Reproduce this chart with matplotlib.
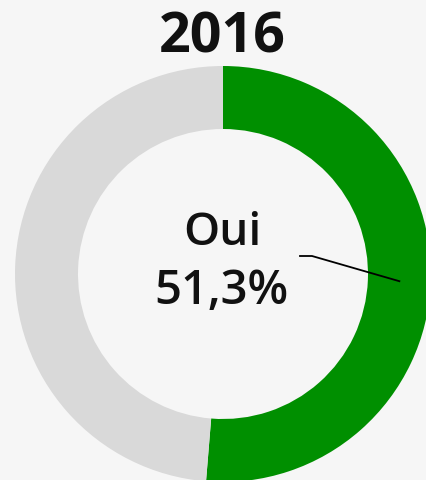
import numpy as np
import matplotlib
matplotlib.use("Agg")
import matplotlib.pyplot as plt

labels = ["Oui", "Non"]
values = [51.3, 48.7]
colors = ["#008f00", "#d9d9d9"]
title = "2016"

W, H = 427, 481
fig = plt.figure(figsize=(W / 100, H / 100), dpi=100)
fig.patch.set_facecolor("#f6f6f6")
ax = fig.add_axes([0, 0, 1, 1])

cx, cy = 223, H - 275
r_out, r_in = 208, 145
wedges, _ = ax.pie(values, colors=colors, startangle=90, counterclock=False,
                   radius=r_out, center=(cx, cy), frame=True,
                   wedgeprops=dict(width=r_out - r_in, linewidth=0))
ax.set_xlim(0, W)
ax.set_ylim(0, H)
ax.set_aspect("equal")
ax.axis("off")

font = ["Open Sans", "DejaVu Sans"]
fig.text(222 / W, 1 - 38 / H, title, ha="center", va="center", fontsize=40,
         fontweight="bold", family=font, color="#111111")
ax.text(cx - 1, H - 234, labels[0], ha="center", va="center", fontsize=33,
        fontweight="semibold", family=font, color="#111111")
ax.text(cx - 2, H - 291, f"{values[0]:.1f}%".replace(".", ","), ha="center",
        va="center", fontsize=34, fontweight="semibold", family=font, color="#111111")

# leader line to middle of the "Oui" wedge
w = wedges[0]
mid = np.deg2rad((w.theta1 + w.theta2) / 2)
rm = (r_out + r_in) / 2
ex, ey = cx + rm * np.cos(mid), cy + rm * np.sin(mid)
sx, sy = cx + 77, cy + 18
ax.plot([sx, sx + 12, ex], [sy, sy, ey], color="black", lw=1.3)

fig.savefig("out.png", dpi=100, facecolor=fig.get_facecolor())
